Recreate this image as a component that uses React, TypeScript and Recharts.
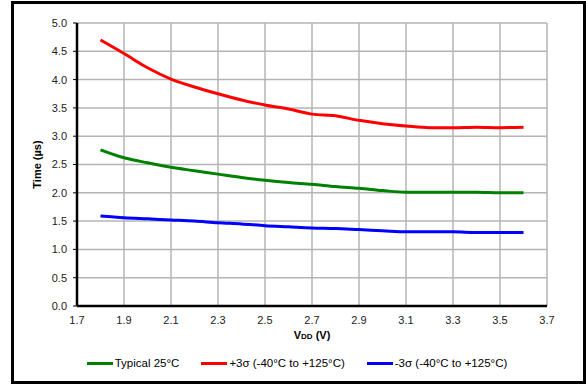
import React from "react";
import {
  LineChart,
  Line,
  XAxis,
  YAxis,
  CartesianGrid,
  Legend,
} from "recharts";

const vdd = [1.8, 1.9, 2.0, 2.1, 2.2, 2.3, 2.4, 2.5, 2.6, 2.7, 2.8, 2.9, 3.0, 3.1, 3.2, 3.3, 3.4, 3.5, 3.6];
const typical = [2.76, 2.62, 2.53, 2.45, 2.39, 2.33, 2.27, 2.22, 2.18, 2.15, 2.11, 2.08, 2.04, 2.01, 2.01, 2.01, 2.01, 2.0, 2.0];
const plus3 = [4.7, 4.46, 4.21, 4.01, 3.87, 3.75, 3.64, 3.55, 3.48, 3.39, 3.36, 3.28, 3.22, 3.18, 3.15, 3.15, 3.16, 3.15, 3.16];
const minus3 = [1.59, 1.56, 1.54, 1.52, 1.5, 1.47, 1.45, 1.42, 1.4, 1.38, 1.37, 1.35, 1.33, 1.31, 1.31, 1.31, 1.3, 1.3, 1.3];

const xTicks = [1.7, 1.9, 2.1, 2.3, 2.5, 2.7, 2.9, 3.1, 3.3, 3.5, 3.7];
const yTicks = [0, 0.5, 1.0, 1.5, 2.0, 2.5, 3.0, 3.5, 4.0, 4.5, 5.0];

const seriesNames = ["Typical 25°C", "+3σ (-40°C to +125°C)", "-3σ (-40°C to +125°C)"];
const seriesColors = ["#008000", "#ff0000", "#0000ff"];

const data = vdd.map((v, i) => ({
  vdd: v,
  typical: typical[i],
  plus3: plus3[i],
  minus3: minus3[i],
}));

const FONT = "'Liberation Sans', Arial, sans-serif";

const LegendContent = () => (
  <div style={{ display: "flex", justifyContent: "center", fontFamily: FONT, fontSize: 11.5, color: "#000" }}>
    {seriesNames.map((name, i) => (
      <div key={name} style={{ display: "flex", alignItems: "center", marginRight: i < 2 ? 22 : 0 }}>
        <span style={{ display: "inline-block", width: 26, height: 3, background: seriesColors[i], marginRight: 2 }} />
        <span>{name}</span>
      </div>
    ))}
  </div>
);

export default function App() {
  return (
    <div style={{ position: "absolute", left: 0, top: 0, width: 586, height: 385, background: "#fff" }}>
      <div
        style={{
          position: "absolute",
          left: 11,
          top: 1,
          width: 575,
          height: 383,
          border: "3px solid #000",
          boxSizing: "border-box",
        }}
      />
      <LineChart
        width={586}
        height={385}
        data={data}
        margin={{ top: 23, right: 39, left: 27, bottom: 49 }}
        style={{ fontFamily: FONT }}
      >
        <CartesianGrid stroke="#b4b4b4" strokeWidth={1.5} />
        <XAxis
          dataKey="vdd"
          type="number"
          domain={[1.7, 3.7]}
          ticks={xTicks}
          tickFormatter={(v: number) => v.toFixed(1)}
          tick={{ fill: "#222", fontSize: 11 }}
          tickLine={false}
          tickSize={6}
          tickMargin={4}
          height={30}
          axisLine={{ stroke: "#000", strokeWidth: 2.5 }}
          label={({ viewBox }: any) => (
            <text
              x={viewBox.x + viewBox.width / 2}
              y={viewBox.y + 33}
              textAnchor="middle"
              fontWeight="bold"
              fontSize={11}
              fill="#000"
            >
              V<tspan fontSize={8}>DD</tspan> (V)
            </text>
          )}
        />
        <XAxis xAxisId="top" orientation="top" dataKey="vdd" type="number" domain={[1.7, 3.7]} height={0} tick={false} tickLine={false} axisLine={{ stroke: "#444", strokeWidth: 2 }} />
        <YAxis
          type="number"
          domain={[0, 5]}
          ticks={yTicks}
          tickFormatter={(v: number) => v.toFixed(1)}
          tick={{ fill: "#222", fontSize: 11 }}
          tickSize={4}
          tickMargin={6}
          tickLine={{ stroke: "#000" }}
          width={50}
          axisLine={{ stroke: "#000", strokeWidth: 2.5 }}
          label={({ viewBox }: any) => (
            <text
              x={41}
              y={viewBox.y + viewBox.height / 2}
              transform={`rotate(-90, 41, ${viewBox.y + viewBox.height / 2})`}
              textAnchor="middle"
              fontWeight="bold"
              fontSize={11}
              fill="#000"
            >
              Time (µs)
            </text>
          )}
        />
        <YAxis yAxisId="right" orientation="right" type="number" domain={[0, 5]} width={0} tick={false} tickLine={false} axisLine={{ stroke: "#444", strokeWidth: 2 }} />
        <Line type="monotone" dataKey="typical" name={seriesNames[0]} stroke={seriesColors[0]} strokeWidth={3} dot={false} isAnimationActive={false} />
        <Line type="monotone" dataKey="plus3" name={seriesNames[1]} stroke={seriesColors[1]} strokeWidth={3} dot={false} isAnimationActive={false} />
        <Line type="monotone" dataKey="minus3" name={seriesNames[2]} stroke={seriesColors[2]} strokeWidth={3} dot={false} isAnimationActive={false} />
        <Legend
          layout="horizontal"
          verticalAlign="middle"
          align="center"
          content={<LegendContent />}
          wrapperStyle={{ top: 357, left: 0, width: 586, transform: "translateX(4px)" }}
        />
      </LineChart>
    </div>
  );
}
